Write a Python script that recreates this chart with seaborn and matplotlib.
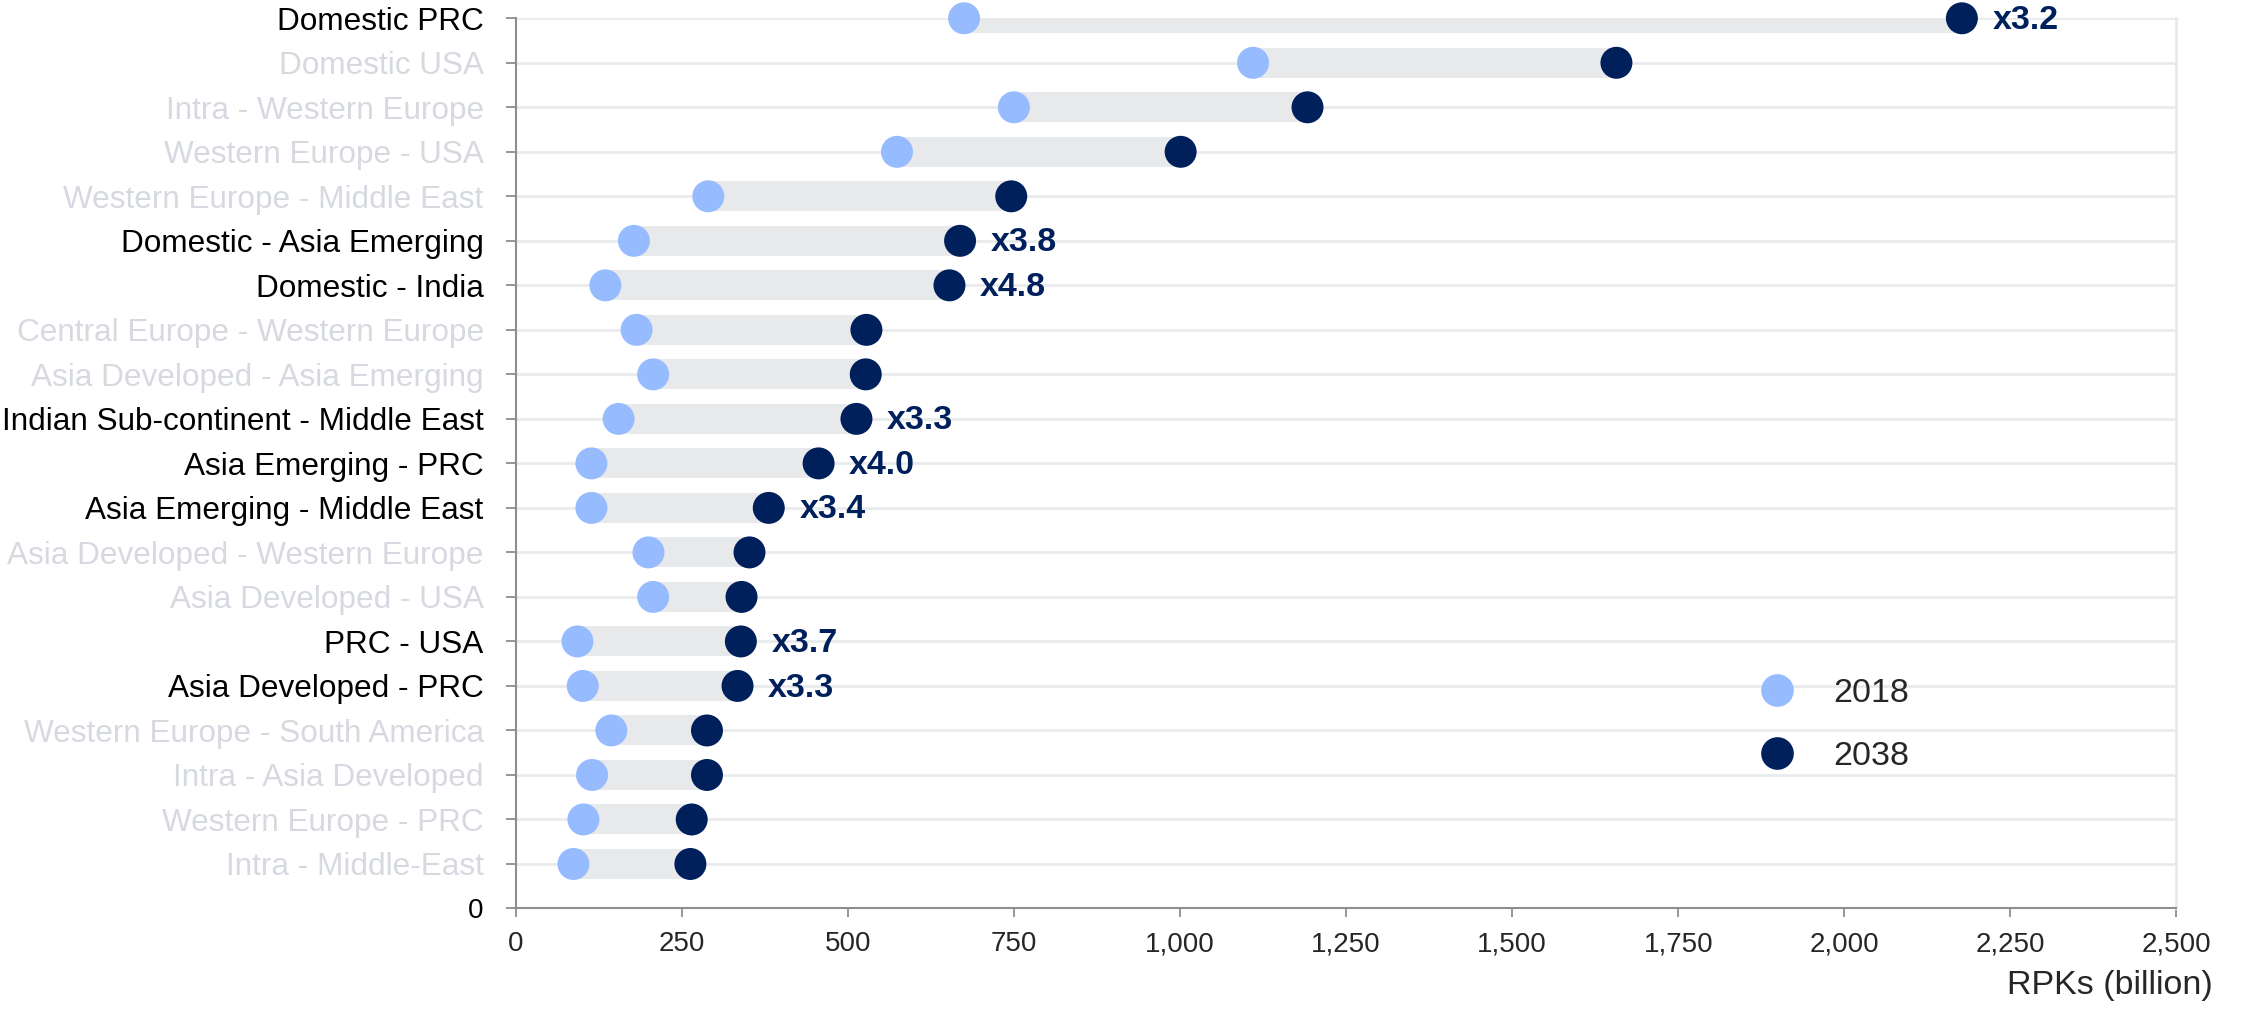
import matplotlib
matplotlib.use("Agg")
import matplotlib.pyplot as plt
from matplotlib.lines import Line2D
from matplotlib.ticker import FuncFormatter, MultipleLocator
import seaborn as sns
import pandas as pd

# Air traffic flows, top to bottom
flows = [
    "Domestic PRC", "Domestic USA", "Intra - Western Europe", "Western Europe - USA",
    "Western Europe - Middle East", "Domestic - Asia Emerging", "Domestic - India",
    "Central Europe - Western Europe", "Asia Developed - Asia Emerging",
    "Indian Sub-continent - Middle East", "Asia Emerging - PRC",
    "Asia Emerging - Middle East", "Asia Developed - Western Europe",
    "Asia Developed - USA", "PRC - USA", "Asia Developed - PRC",
    "Western Europe - South America", "Intra - Asia Developed",
    "Western Europe - PRC", "Intra - Middle-East",
]
rpk_2018 = [675, 1110, 750, 574, 290, 178, 135, 182, 207, 155,
            114, 114, 200, 207, 93, 101, 144, 115, 102, 87]
rpk_2038 = [2177, 1657, 1192, 1001, 746, 669, 653, 528, 527, 513,
            456, 381, 352, 340, 339, 334, 288, 288, 265, 263]
growth = ["x3.2", None, None, None, None, "x3.8", "x4.8", None, None, "x3.3",
          "x4.0", "x3.4", None, None, "x3.7", "x3.3", None, None, None, None]
years = ["2018", "2038"]

LIGHT = "#97bbff"
NAVY = "#00205c"
BAR = "#e8e9eb"
GRID = "#e9eaec"
MUTED = "#d6d9e0"
AXIS = "#8e8e8e"

sns.set_style("white")
plt.rcParams["font.family"] = ["Liberation Sans", "DejaVu Sans"]

n = len(flows)
pos = [n - i for i in range(n)]  # top flow sits at n, bottom at 1

df = pd.DataFrame({
    "flow": flows * 2,
    "pos": pos * 2,
    "rpk": rpk_2018 + rpk_2038,
    "year": [years[0]] * n + [years[1]] * n,
})

fig = plt.figure(figsize=(22.41, 10.10), dpi=100)
ax = fig.add_axes([0.2301, 0.1005, 0.9712 - 0.2301, 0.9819 - 0.1005])

# range bars between the two years
ax.barh(pos, [b - a for a, b in zip(rpk_2018, rpk_2038)], left=rpk_2018,
        height=0.675, color=BAR, zorder=1, linewidth=0)

sns.scatterplot(data=df, x="rpk", y="pos", hue="year",
                palette={years[0]: LIGHT, years[1]: NAVY},
                s=530, edgecolor="none", linewidth=0, legend=False,
                ax=ax, zorder=3, clip_on=False)

# growth multipliers
for p, v, g in zip(pos, rpk_2038, growth):
    if g:
        ax.annotate(g, xy=(v, p), xytext=(22, -1.5), textcoords="offset points",
                    ha="left", va="center", fontsize=24.5, fontweight="bold",
                    color=NAVY, annotation_clip=False)

ax.set_xlim(0, 2500)
ax.set_ylim(0, n)
ax.xaxis.set_major_locator(MultipleLocator(250))
ax.xaxis.set_major_formatter(FuncFormatter(lambda v, _: f"{int(v):,}"))

ax.set_yticks(range(0, n + 1))
ax.set_yticklabels(["0"] + flows[::-1])
for lbl, name in zip(ax.get_yticklabels(), ["0"] + flows[::-1]):
    if name == "0":
        lbl.set_fontsize(20)
        lbl.set_color("black")
    else:
        lbl.set_fontsize(22.7)
        idx = flows.index(name)
        lbl.set_color("black" if growth[idx] else MUTED)

ax.tick_params(axis="x", labelsize=20, length=6.5, width=1.3, color=AXIS,
               pad=10, direction="out", bottom=True)
ax.tick_params(axis="y", length=7, width=1.3, color=AXIS, pad=16,
               direction="out", left=True)

ax.grid(axis="y", color=GRID, linewidth=2, zorder=0)
ax.grid(axis="x", visible=False)
ax.set_axisbelow(True)

for side in ("left", "bottom"):
    ax.spines[side].set_color(AXIS)
    ax.spines[side].set_linewidth(1.5)
ax.spines["top"].set_visible(False)
ax.spines["right"].set_color(GRID)
ax.spines["right"].set_linewidth(2)

ax.set_ylabel("")
ax.set_xlabel("RPKs (billion)", fontsize=24.5, ha="right", va="center")
ax.xaxis.set_label_coords(1.022, -0.087)

handles = [Line2D([], [], linestyle="none", marker="o", markersize=23.5,
                  markerfacecolor=c, markeredgecolor="none")
           for c in (LIGHT, NAVY)]
ax.legend(handles, years, loc="upper left", bbox_to_anchor=(0.7854, 0.3287),
          bbox_transform=fig.transFigure, frameon=False, fontsize=24.5,
          handlelength=1.0, handletextpad=1.15, labelspacing=0.93,
          borderpad=0, borderaxespad=0)

fig.savefig("out.png", dpi=100)
